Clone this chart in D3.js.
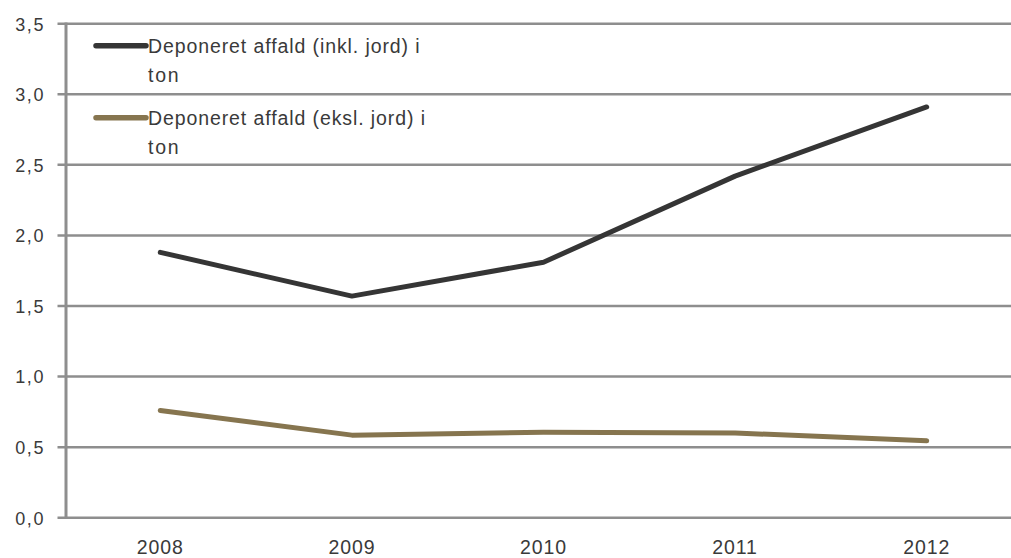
<!DOCTYPE html>
<html>
<head>
<meta charset="utf-8">
<script src="https://cdn.jsdelivr.net/npm/d3@7"></script>
<style>
  html, body { margin: 0; padding: 0; background: #ffffff; }
  svg { display: block; }
  text { font-family: "Liberation Sans", Arial, sans-serif; fill: #3a3a3a; }
</style>
</head>
<body>
<svg id="chart" width="1011" height="558"></svg>
<script>
// Deponeret affald, 2008-2012
const years = ["2008", "2009", "2010", "2011", "2012"];
const inklJord = [1.88, 1.57, 1.81, 2.42, 2.91];
const eksklJord = [0.76, 0.585, 0.605, 0.60, 0.545];
const yTicks = [0, 0.5, 1.0, 1.5, 2.0, 2.5, 3.0, 3.5];
const seriesNames = ["Deponeret affald (inkl. jord) i", "Deponeret affald (eksl. jord) i"];
const seriesColors = ["#353535", "#86754f"];

const svg = d3.select("#chart");
const W = 1011, H = 558;
const plot = { left: 64.5, right: 1022.5, top: 23.7, bottom: 517.7 };

const x = d3.scalePoint().domain(years).range([plot.left, plot.right]).padding(0.5);
const y = d3.scaleLinear().domain([0, 3.5]).range([plot.bottom, plot.top]);

const fmt = v => d3.format(".1f")(v).replace(".", ",");

// Horizontal gridlines with short ticks reaching left of the axis
const grid = svg.append("g");
grid.selectAll("line")
  .data(yTicks)
  .join("line")
  .attr("x1", 57.5)
  .attr("x2", W)
  .attr("y1", d => y(d))
  .attr("y2", d => y(d))
  .attr("stroke", "#8e8e8e")
  .attr("stroke-width", 2.5);

// Vertical value axis
svg.append("line")
  .attr("x1", 66).attr("x2", 66)
  .attr("y1", y(3.5) - 1.2).attr("y2", y(0) + 1.2)
  .attr("stroke", "#8e8e8e")
  .attr("stroke-width", 3);

// Value axis labels
svg.append("g").selectAll("text")
  .data(yTicks)
  .join("text")
  .attr("x", 45)
  .attr("y", d => y(d) + 6.8)
  .attr("text-anchor", "end")
  .attr("font-size", 18)
  .attr("letter-spacing", 1.6)
  .text(fmt);

// Category labels
svg.append("g").selectAll("text")
  .data(years)
  .join("text")
  .attr("x", d => x(d))
  .attr("y", 554)
  .attr("text-anchor", "middle")
  .attr("font-size", 19.5)
  .attr("letter-spacing", 0.9)
  .text(d => d);

// Series lines
const line = d3.line()
  .x((d, i) => x(years[i]))
  .y(d => y(d));

[inklJord, eksklJord].forEach((vals, k) => {
  svg.append("path")
    .datum(vals)
    .attr("d", line)
    .attr("fill", "none")
    .attr("stroke", seriesColors[k])
    .attr("stroke-width", 5)
    .attr("stroke-linejoin", "round")
    .attr("stroke-linecap", "round");
});

// Legend
const legendRows = [
  { y: 45.7, textY: 53, tonY: 82 },
  { y: 117.7, textY: 125, tonY: 154 }
];
legendRows.forEach((r, k) => {
  svg.append("line")
    .attr("x1", 96).attr("x2", 146)
    .attr("y1", r.y).attr("y2", r.y)
    .attr("stroke", seriesColors[k])
    .attr("stroke-width", 5.5)
    .attr("stroke-linecap", "round");
  svg.append("text")
    .attr("x", 148)
    .attr("y", r.textY)
    .attr("font-size", 19.5)
    .attr("letter-spacing", 0.9)
    .text(seriesNames[k]);
  svg.append("text")
    .attr("x", 148)
    .attr("y", r.tonY)
    .attr("font-size", 19.5)
    .attr("letter-spacing", 1.8)
    .text("ton");
});
</script>
</body>
</html>
